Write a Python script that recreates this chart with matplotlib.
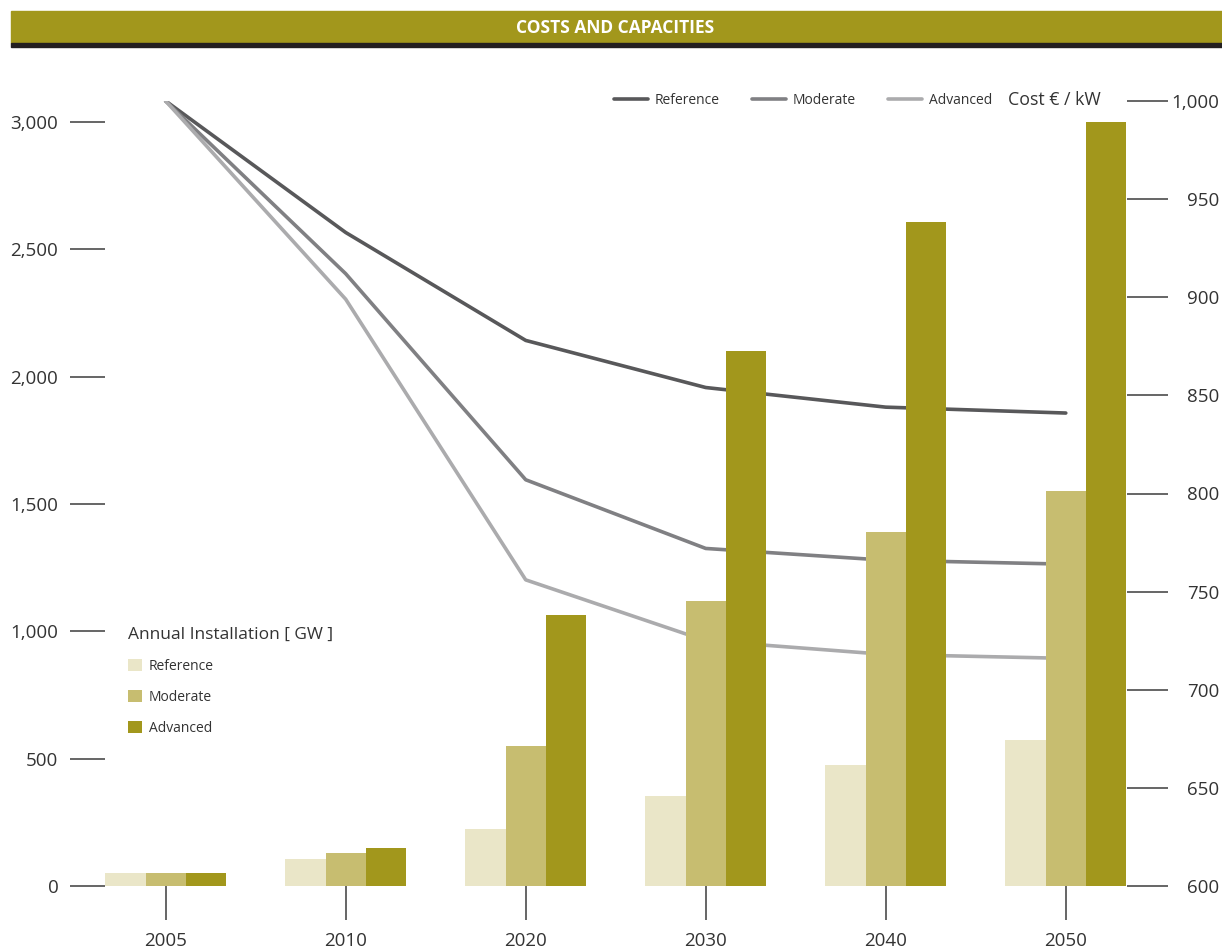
import numpy as np
import matplotlib
matplotlib.use("Agg")
import matplotlib.pyplot as plt
from matplotlib.patches import Rectangle

plt.rcParams["font.family"] = ["Open Sans", "DejaVu Sans"]

# data
years = ["2005", "2010", "2020", "2030", "2040", "2050"]
install_reference = [50, 105, 225, 355, 475, 575]  # GW
install_moderate = [50, 130, 550, 1120, 1390, 1550]
install_advanced = [50, 150, 1065, 2100, 2605, 3000]
cost_reference = [1000, 933, 878, 854, 844, 841]  # EUR / kW
cost_moderate = [1000, 912, 807, 772, 766, 764]
cost_advanced = [1000, 899, 756, 725, 718, 716]
gw_ticks = [0, 500, 1000, 1500, 2000, 2500, 3000]
cost_ticks = [600, 650, 700, 750, 800, 850, 900, 950, 1000]

W, H = 1222, 951
OLIVE = "#a2971c"
BAR_COLORS = ["#eae6c8", "#c7bd70", OLIVE]
LINE_COLORS = ["#58585a", "#808083", "#ababad"]
TEXT = "#333333"
TICK = "#3c3c3c"


def fx(px):
    return px / W


def fy(py):
    return 1 - py / H


fig = plt.figure(figsize=(W / 100, H / 100), dpi=100)

# header band
fig.patches.append(Rectangle((fx(11), fy(43)), fx(W - 11), 32 / H,
                             transform=fig.transFigure, color=OLIVE, zorder=0))
fig.patches.append(Rectangle((fx(11), fy(47)), fx(W - 11), 4 / H,
                             transform=fig.transFigure, color="#231f20", zorder=0))
fig.text(fx(615), fy(28), "COSTS AND CAPACITIES", ha="center", va="center",
         color="white", fontsize=12.5, fontweight="bold")

# axes: left = GW (bars), right = cost (lines, drawn behind the bars)
ax = fig.add_axes([fx(105), fy(886), fx(1127 - 105), (886 - 101) / H])
ax2 = ax.twinx()
ax.set_zorder(2)
ax2.set_zorder(1)
ax.patch.set_visible(False)

x = np.arange(len(years))
w = 0.224
bars = []
for off, vals, col, lab in zip([-w, 0, w],
                               [install_reference, install_moderate, install_advanced],
                               BAR_COLORS, ["Reference", "Moderate", "Advanced"]):
    bars.append(ax.bar(x + off, vals, width=w, color=col, label=lab, linewidth=0))

lines = []
for vals, col, lab in zip([cost_reference, cost_moderate, cost_advanced],
                          LINE_COLORS, ["Reference", "Moderate", "Advanced"]):
    ln, = ax2.plot(x, vals, color=col, lw=2.6, label=lab, solid_capstyle="round",
                   solid_joinstyle="round")
    lines.append(ln)

ax.set_xlim(-0.337, 5.34)
ax.set_ylim(0, 3082)
ax2.set_ylim(600, 1000)

for a in (ax, ax2):
    for s in a.spines.values():
        s.set_visible(False)

ax.set_xticks(x)
ax.set_xticklabels(years)
ax.tick_params(axis="x", length=24.5, width=1.1, color=TICK, pad=8.5,
               labelsize=13.5, labelcolor=TEXT)
ax.set_yticks(gw_ticks)
ax.set_yticklabels([f"{v:,}" for v in gw_ticks])
ax.tick_params(axis="y", length=25, width=1.1, color=TICK, pad=8.6,
               labelsize=13.5, labelcolor=TEXT)

ax2.set_yticks(cost_ticks)
ax2.set_yticklabels([f"{v:,}" for v in cost_ticks])
ax2.tick_params(axis="y", length=29.5, width=1.1, color=TICK, pad=37,
                labelsize=13.5, labelcolor=TEXT)
plt.setp(ax2.get_yticklabels(), ha="right")

# legends
leg1 = ax.legend(handles=bars, title="Annual Installation [ GW ]", loc="upper left",
                 bbox_to_anchor=(fx(128), fy(627)), bbox_transform=fig.transFigure,
                 frameon=False, fontsize=10, title_fontsize=12.5, alignment="left",
                 handlelength=1.0, handleheight=1.0, handletextpad=0.5,
                 labelspacing=1.15, borderpad=0, borderaxespad=0)
for t in leg1.get_texts():
    t.set_color(TEXT)
leg1.get_title().set_color(TEXT)

leg2 = fig.legend(handles=lines, loc="center left", bbox_to_anchor=(fx(614), fy(100)),
                  ncol=3, frameon=False, fontsize=10, handlelength=2.45,
                  handletextpad=0.5, columnspacing=2.3, borderpad=0, borderaxespad=0)
for t in leg2.get_texts():
    t.set_color(TEXT)

fig.text(fx(1008), fy(100), "Cost € / kW", ha="left", va="center",
         fontsize=12.8, color=TEXT)

fig.savefig("out.png", dpi=100)
